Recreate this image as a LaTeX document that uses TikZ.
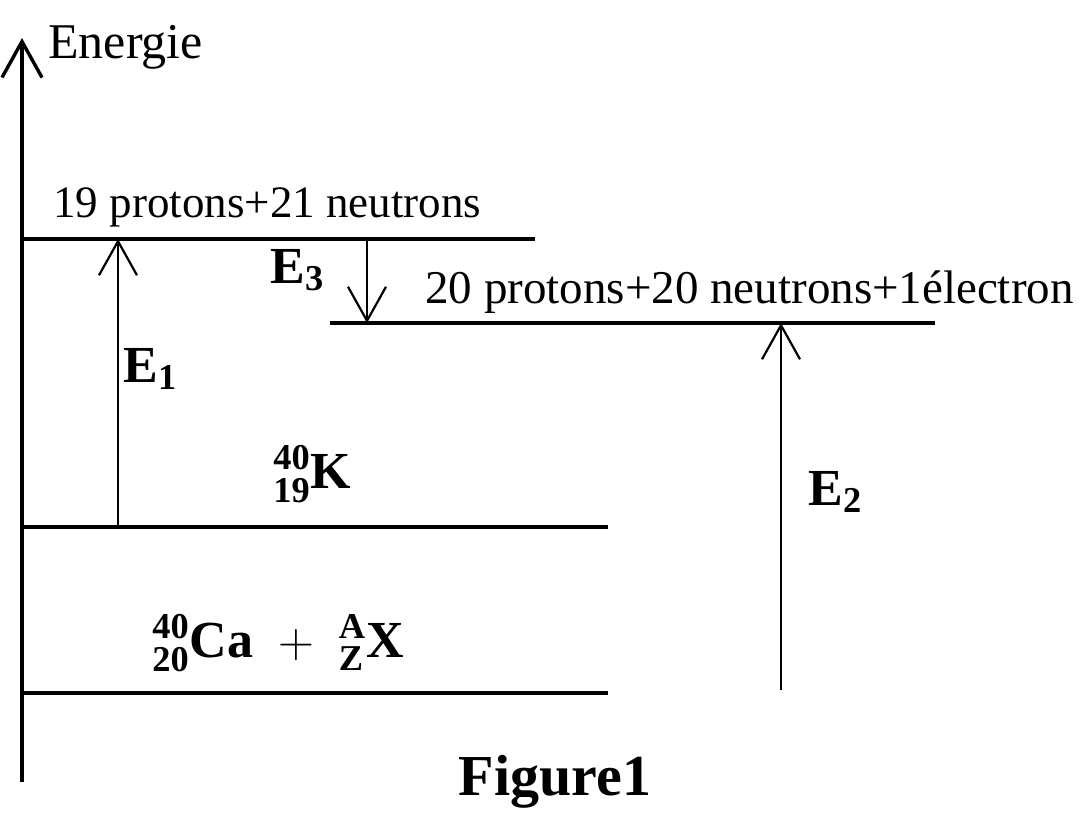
\documentclass[tikz,border=0pt]{standalone}
\usepackage{amsmath}
\usepackage{fontspec}
\setmainfont{Liberation Serif}
\usetikzlibrary{arrows.meta,positioning}

\tikzset{
  axis/.style={line width=1.7pt,-{Straight Barb[length=18pt,width=20pt,line width=1.7pt]}},
  level/.style={line width=2pt},
  trans/.style={line width=1.1pt,-{Straight Barb[length=17pt,width=19pt,line width=1.1pt]}},
  txt/.style={font=\fontsize{22.5}{26}\selectfont,inner sep=0pt},
  lab/.style={font=\fontsize{26}{28}\selectfont\bfseries,inner sep=0pt}
}

\begin{document}
\begin{tikzpicture}[x=0.5pt,y=-0.5pt]
      \useasboundingbox (0,0) rectangle (1080,827);

      \coordinate (o) at (22,782);
      \coordinate (top) at (22,38);
      \coordinate (a1) at (22,239);
      \coordinate (a2) at (535,239);
      \coordinate (b1) at (330,323);
      \coordinate (b2) at (935,323);
      \coordinate (k1) at (22,527);
      \coordinate (k2) at (608,527);
      \coordinate (c1) at (22,693);
      \coordinate (c2) at (608,693);
      \coordinate (e1) at (118,527);
      \coordinate (e1t) at (118,239);
      \coordinate (e3) at (367,239);
      \coordinate (e3t) at (367,323);
      \coordinate (e2) at (781,690);
      \coordinate (e2t) at (781,323);

      \draw[axis] (o) -- (top);
      \draw[level] (a1) -- (a2);
      \draw[level] (b1) -- (b2);
      \draw[level] (k1) -- (k2);
      \draw[level] (c1) -- (c2);

      \draw[trans] (e1) -- (e1t);
      \draw[trans] (e3) -- (e3t);
      \draw[trans] (e2) -- (e2t);

      \node[txt,anchor=base west,font=\fontsize{25}{28}\selectfont] (en) at (48,58) {Energie};
      \node[txt,anchor=base west] (p1) at (53,217) {19 protons+21 neutrons};
      \node[txt,anchor=base west,font=\fontsize{23.5}{26}\selectfont] (p2) at (425,303) {20 protons+20 neutrons+1électron};

      \node[lab,anchor=base west] (E1) at (123,382) {E$_{\text{1}}$};
      \node[lab,anchor=base west] (E3) at (270,283) {E$_{\text{3}}$};
      \node[lab,anchor=base west] (E2) at (808,505) {E$_{\text{2}}$};

      \node[lab,anchor=base west] (K) at (273,488) {$^{\text{40}}_{\text{19}}$K};
      \node[lab,anchor=base west] (Ca) at (152,657) {$^{\text{40}}_{\text{20}}$Ca${}\;+\;{}^{\text{A}}_{\text{Z}}$X};
      \node[lab,anchor=base,font=\fontsize{29}{32}\selectfont\bfseries] (fig) at (555,795) {Figure1};
    \end{tikzpicture}
\end{document}
